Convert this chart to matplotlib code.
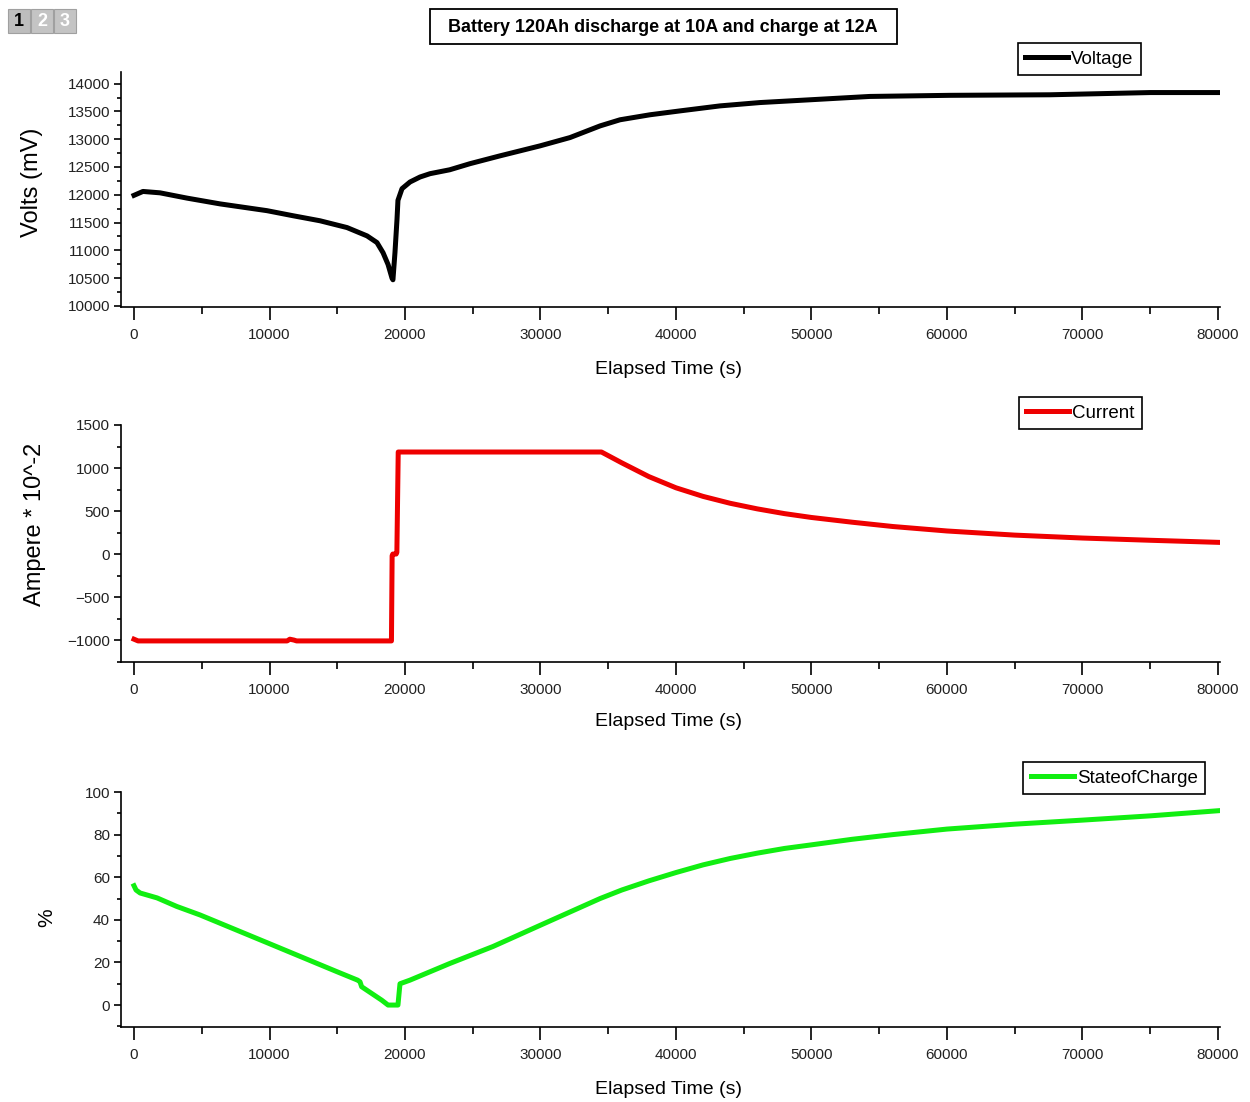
import matplotlib
matplotlib.use("Agg")
import matplotlib.pyplot as plt
from matplotlib.patches import Rectangle
from matplotlib.ticker import MultipleLocator

# ---- data ----
volt_t = [0, 660, 1920, 3910, 6350, 9815, 11730, 13730, 15720, 17200, 17930, 18380, 18750,
          19040, 19110, 19260, 19410, 19480, 19780, 20370, 21110, 21850, 23300, 24800,
          27000, 29960, 32180, 34400, 35870, 38080, 40300, 43250, 46200, 49900, 54300,
          60200, 67600, 71300, 75000, 80200]
volt_v = [11990, 12060, 12035, 11940, 11836, 11714, 11623, 11532, 11410, 11260, 11140, 10957,
          10745, 10500, 10470, 10960, 11560, 11900, 12110, 12230, 12320, 12380, 12450, 12560,
          12700, 12880, 13030, 13240, 13350, 13440, 13510, 13600, 13660, 13710, 13770,
          13790, 13800, 13820, 13840, 13840]

curr_t = [0, 300, 11300, 11500, 11800, 12000, 19000, 19050, 19100, 19350, 19400, 19500,
          34500, 36000, 38000, 40000, 42000, 44000, 46000, 48000, 50000, 53000, 56000,
          60000, 65000, 70000, 75000, 80200]
curr_a = [-990, -1010, -1010, -990, -1000, -1010, -1010, -20, 0, 0, 20, 1186,
          1186, 1060, 900, 770, 670, 590, 525, 470, 425, 370, 320, 268, 220, 186, 160, 135]

soc_t = [0, 150, 450, 1700, 3150, 4870, 10000, 15000, 16500, 16680, 16800, 18280, 18750,
         19480, 19630, 20370, 23300, 26500, 30000, 34400, 36000, 38000, 40000, 42000,
         44000, 46000, 48000, 50000, 53000, 56000, 60000, 65000, 70000, 75000, 80200]
soc_p = [56, 54, 52.6, 50.3, 46.3, 42.3, 28.8, 15.6, 11.7, 10.9, 8.6, 2.3, 0,
         0, 10, 11.7, 19.5, 27.5, 37.5, 50, 54, 58.3, 62.2, 65.8, 68.8, 71.3, 73.5, 75.2,
         77.8, 80, 82.6, 84.9, 86.8, 88.8, 91.3]

title = "Battery 120Ah discharge at 10A and charge at 12A"
xlabel = "Elapsed Time (s)"

W, H = 1250, 1102
fig = plt.figure(figsize=(W / 100, H / 100), dpi=100)

reg = ["Liberation Sans", "DejaVu Sans"]


def fx(px):
    return px / W


def fy(py):
    return 1 - py / H


def make_ax(top, bottom, xlab_py):
    ax = fig.add_axes([fx(121), fy(bottom), fx(1220) - fx(121), fy(top) - fy(bottom)])
    for s in ("top", "right"):
        ax.spines[s].set_visible(False)
    for s in ("left", "bottom"):
        ax.spines[s].set_linewidth(1.2)
    ax.set_xlim(-960, 80150)
    ax.xaxis.set_major_locator(MultipleLocator(10000))
    ax.xaxis.set_minor_locator(MultipleLocator(5000))
    ax.tick_params(axis="x", which="major", direction="out", length=9, width=1.2, pad=6)
    ax.tick_params(axis="x", which="minor", direction="out", length=5, width=1.2)
    ax.tick_params(axis="y", which="major", direction="out", length=5, width=1.2, pad=3)
    ax.tick_params(axis="y", which="minor", direction="out", length=3, width=1.2)
    ax.set_xlabel(xlabel, fontfamily=reg, fontsize=14, va="center")
    ax.xaxis.set_label_coords(0.4986, (bottom - xlab_py) / (bottom - top))
    return ax


def style_ticks(ax):
    for lab in ax.get_xticklabels() + ax.get_yticklabels():
        lab.set_fontfamily(reg)
        lab.set_fontsize(11)
        lab.set_color("#222222")


def set_ylab(ax, text, size, px, py, top, bottom):
    ax.set_ylabel(text, fontfamily=reg, fontsize=size, va="center", ha="center")
    ax.yaxis.set_label_coords((px - 121) / 1099, (bottom - py) / (bottom - top))


ax1 = make_ax(72, 307, 369)
ax1.plot(volt_t, volt_v, color="black", lw=3.6, label="Voltage", solid_joinstyle="round")
ax1.set_ylim(9980, 14210)
ax1.yaxis.set_major_locator(MultipleLocator(500))
ax1.yaxis.set_minor_locator(MultipleLocator(250))
set_ylab(ax1, "Volts (mV)", 17, 32, 182, 72, 307)
style_ticks(ax1)

ax2 = make_ax(425, 662, 722)
ax2.plot(curr_t, curr_a, color="#ee0000", lw=3.6, label="Current", solid_joinstyle="round")
ax2.set_ylim(-1255, 1500)
ax2.yaxis.set_major_locator(MultipleLocator(500))
ax2.yaxis.set_minor_locator(MultipleLocator(250))
set_ylab(ax2, "Ampere * 10^-2", 17, 35, 524, 425, 662)
style_ticks(ax2)

ax3 = make_ax(792, 1027, 1089)
ax3.plot(soc_t, soc_p, color="#11ee11", lw=3.6, label="StateofCharge", solid_joinstyle="round")
ax3.set_ylim(-10.3, 100)
ax3.yaxis.set_major_locator(MultipleLocator(20))
ax3.yaxis.set_minor_locator(MultipleLocator(10))
set_ylab(ax3, "%", 15, 47, 918, 792, 1027)
style_ticks(ax3)

for ax, (rx, ty) in ((ax1, (1141, 43)), (ax2, (1142, 397)), (ax3, (1205, 762))):
    leg = ax.legend(loc="upper right", bbox_to_anchor=(fx(rx), fy(ty)),
                    bbox_transform=fig.transFigure, borderaxespad=0,
                    fancybox=False, framealpha=1, edgecolor="black",
                    handlelength=2.3, handletextpad=0.15, borderpad=0.4,
                    prop={"family": reg, "size": 13.5})
    leg.get_frame().set_linewidth(1.2)

# title box
fig.patches.append(Rectangle((fx(430), fy(44)), fx(897) - fx(430), fy(9) - fy(44),
                             transform=fig.transFigure, fc="white", ec="black", lw=1.3))
fig.text(fx(663), fy(27), title, ha="center", va="center", fontfamily=reg,
         fontweight="bold", fontsize=13)

# page buttons "1 2 3"
for i, (lbl, fc, tc) in enumerate((("1", "#bdbdbd", "black"), ("2", "#c4c4c4", "white"),
                                    ("3", "#c4c4c4", "white"))):
    x0 = 8 + i * 23
    fig.patches.append(Rectangle((fx(x0), fy(33)), fx(22), fy(9) - fy(33),
                                 transform=fig.transFigure, fc=fc, ec="#a0a0a0", lw=0.8))
    fig.text(fx(x0 + 11), fy(21), lbl, ha="center", va="center", color=tc,
             fontfamily=reg, fontweight="bold", fontsize=13)

fig.savefig("out.png", dpi=100)
